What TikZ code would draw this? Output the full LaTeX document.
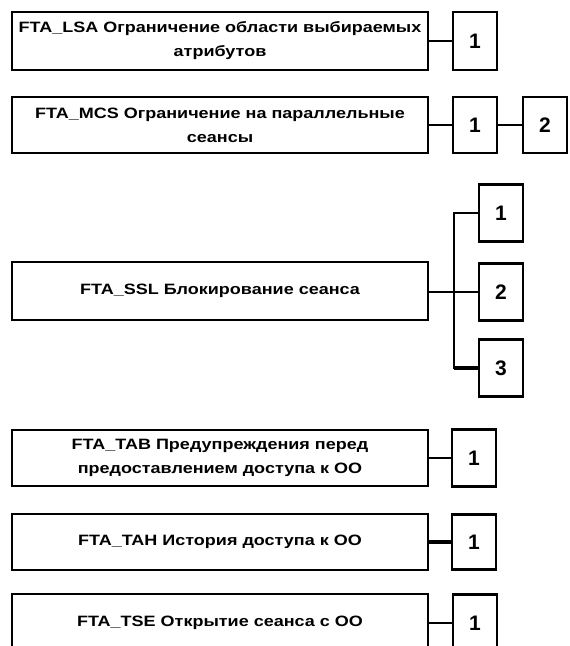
\documentclass[tikz,border=0pt]{standalone}
\usepackage{fontspec}
\setmainfont{Liberation Sans}
\newfontfamily\boxfont[FakeStretch=1.2]{Liberation Sans}
\usetikzlibrary{calc}
\tikzset{
  bigbox/.style={draw, line width=2.6pt, minimum width=416pt, minimum height=58pt, inner sep=0pt, align=center,
    font=\boxfont\fontsize{15}{24}\selectfont\bfseries},
  numbox/.style={draw, line width=2.6pt, minimum width=44pt, minimum height=57pt, inner sep=0pt,
    font=\fontsize{21}{21}\selectfont\bfseries},
  link/.style={line width=2pt},
  thicklink/.style={line width=3.2pt}
}
\begin{document}
\begin{tikzpicture}[x=1pt,y=-1pt]
\fill[white] (0,0) rectangle (570,646);
\useasboundingbox (0,0) rectangle (570,646);
\clip (0,0) rectangle (570,646);
% FTA_LSA
\node[bigbox] (lsa) at (220,41) {FTA\_LSA Ограничение области выбираемых\\атрибутов};
\node[numbox, minimum height=58pt] (lsa1) at (475,41) {1};
\draw[link] (lsa.east) -- (lsa1.west);
% FTA_MCS
\node[bigbox, minimum height=56pt] (mcs) at (220,125) {FTA\_MCS Ограничение на параллельные\\сеансы};
\node[numbox, minimum height=56pt] (mcs1) at (475,125) {1};
\node[numbox, minimum height=56pt] (mcs2) at (545,125) {2};
\draw[link] (mcs.east) -- (mcs1.west);
\draw[link] (mcs1.east) -- (mcs2.west);
% FTA_SSL
\node[bigbox] (ssl) at (220,291) {FTA\_SSL Блокирование сеанса};
\node[numbox] (ssl1) at (501,213) {1};
\node[numbox] (ssl2) at (501,292) {2};
\node[numbox] (ssl3) at (501,368) {3};
\coordinate (j) at ($(ssl.east)!0.5!(ssl2.west)$);
\draw[link] (ssl.east |- ssl2.west) -- (ssl2.west);
\draw[link, line join=miter] (ssl1.west) -| (j |- ssl3.west) -- (ssl3.west);
\draw[thicklink] (j |- ssl3.west) -- (ssl3.west);
% FTA_TAB
\node[bigbox, minimum height=56pt] (tab) at (220,458) {FTA\_TAB Предупреждения перед\\предоставлением доступа к ОО};
\node[numbox] (tab1) at (474,458) {1};
\draw[link] (tab.east) -- (tab1.west);
% FTA_TAH
\node[bigbox, minimum height=56pt] (tah) at (220,542) {FTA\_TAH История доступа к ОО};
\node[numbox, minimum height=55pt] (tah1) at (474,542) {1};
\draw[thicklink] (tah.east) -- (tah1.west);
% FTA_TSE
\node[bigbox] (tse) at (220,623) {FTA\_TSE Открытие сеанса с ОО};
\node[numbox] (tse1) at (475,623) {1};
\draw[link] (tse.east) -- (tse1.west);
\end{tikzpicture}
\end{document}
